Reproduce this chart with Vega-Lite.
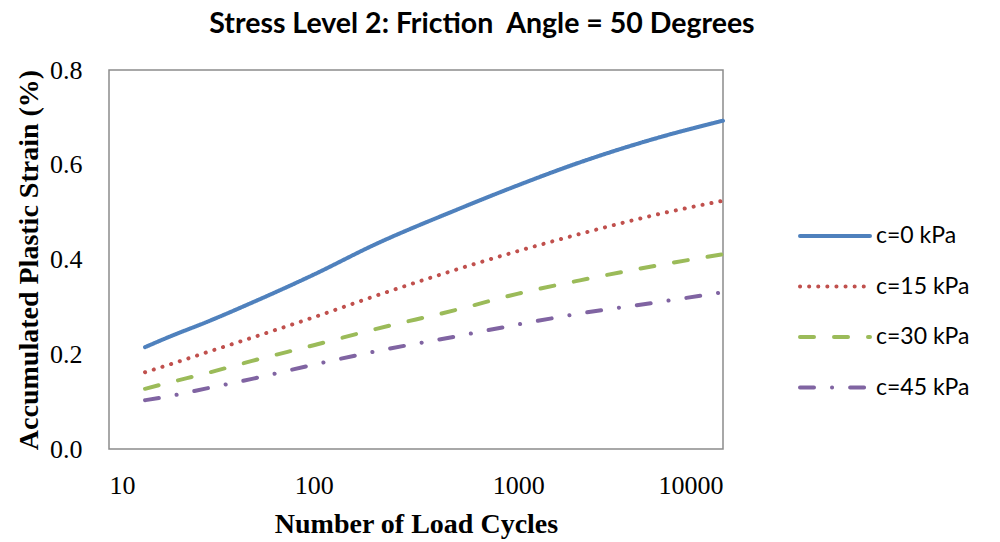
{
  "$schema": "https://vega.github.io/schema/vega-lite/v6.json",
  "autosize": {"type": "none"},
  "width": 614,
  "height": 379,
  "padding": {"left": 109, "top": 70, "right": 277, "bottom": 93},
  "background": "white",
  "title": {
    "text": "Stress Level 2: Friction\u00a0 Angle = 50 Degrees",
    "font": "Lato",
    "fontWeight": "bold",
    "fontSize": 28.5,
    "color": "#000000",
    "anchor": "middle",
    "frame": "group",
    "dx": 66,
    "offset": 19
  },
  "config": {
    "view": {"stroke": "#8c8c8c", "strokeWidth": 1.5},
    "axis": {"grid": false, "ticks": false, "domain": false, "labelColor": "#000000", "titleColor": "#000000"}
  },
  "data": {
    "values": [
      {"N": 15, "strain": 0.215, "series": "c=0 kPa"},
      {"N": 20, "strain": 0.238, "series": "c=0 kPa"},
      {"N": 30, "strain": 0.268, "series": "c=0 kPa"},
      {"N": 50, "strain": 0.309, "series": "c=0 kPa"},
      {"N": 100, "strain": 0.368, "series": "c=0 kPa"},
      {"N": 200, "strain": 0.432, "series": "c=0 kPa"},
      {"N": 500, "strain": 0.505, "series": "c=0 kPa"},
      {"N": 1000, "strain": 0.557, "series": "c=0 kPa"},
      {"N": 2000, "strain": 0.605, "series": "c=0 kPa"},
      {"N": 5000, "strain": 0.659, "series": "c=0 kPa"},
      {"N": 10000, "strain": 0.693, "series": "c=0 kPa"},
      {"N": 15, "strain": 0.162, "series": "c=15 kPa"},
      {"N": 20, "strain": 0.179, "series": "c=15 kPa"},
      {"N": 30, "strain": 0.204, "series": "c=15 kPa"},
      {"N": 50, "strain": 0.235, "series": "c=15 kPa"},
      {"N": 100, "strain": 0.278, "series": "c=15 kPa"},
      {"N": 200, "strain": 0.323, "series": "c=15 kPa"},
      {"N": 500, "strain": 0.379, "series": "c=15 kPa"},
      {"N": 1000, "strain": 0.418, "series": "c=15 kPa"},
      {"N": 2000, "strain": 0.454, "series": "c=15 kPa"},
      {"N": 5000, "strain": 0.497, "series": "c=15 kPa"},
      {"N": 10000, "strain": 0.524, "series": "c=15 kPa"},
      {"N": 15, "strain": 0.127, "series": "c=30 kPa"},
      {"N": 20, "strain": 0.141, "series": "c=30 kPa"},
      {"N": 30, "strain": 0.160, "series": "c=30 kPa"},
      {"N": 50, "strain": 0.186, "series": "c=30 kPa"},
      {"N": 100, "strain": 0.219, "series": "c=30 kPa"},
      {"N": 200, "strain": 0.253, "series": "c=30 kPa"},
      {"N": 500, "strain": 0.294, "series": "c=30 kPa"},
      {"N": 1000, "strain": 0.328, "series": "c=30 kPa"},
      {"N": 2000, "strain": 0.356, "series": "c=30 kPa"},
      {"N": 5000, "strain": 0.389, "series": "c=30 kPa"},
      {"N": 10000, "strain": 0.411, "series": "c=30 kPa"},
      {"N": 15, "strain": 0.103, "series": "c=45 kPa"},
      {"N": 20, "strain": 0.112, "series": "c=45 kPa"},
      {"N": 30, "strain": 0.128, "series": "c=45 kPa"},
      {"N": 50, "strain": 0.148, "series": "c=45 kPa"},
      {"N": 100, "strain": 0.178, "series": "c=45 kPa"},
      {"N": 200, "strain": 0.206, "series": "c=45 kPa"},
      {"N": 500, "strain": 0.238, "series": "c=45 kPa"},
      {"N": 1000, "strain": 0.263, "series": "c=45 kPa"},
      {"N": 2000, "strain": 0.286, "series": "c=45 kPa"},
      {"N": 5000, "strain": 0.311, "series": "c=45 kPa"},
      {"N": 10000, "strain": 0.331, "series": "c=45 kPa"}
    ]
  },
  "mark": {"type": "line", "strokeWidth": 4, "strokeCap": "round", "interpolate": "monotone"},
  "encoding": {
    "x": {
      "field": "N",
      "type": "quantitative",
      "scale": {"type": "log", "domain": [10, 10000], "nice": false},
      "axis": {
        "values": [10, 100, 1000, 10000],
        "format": "d",
        "labelFont": "Liberation Serif",
        "labelFontSize": 26,
        "labelPadding": 23,
        "title": "Number of Load Cycles",
        "titleFont": "Liberation Serif",
        "titleFontSize": 28,
        "titleFontWeight": "bold",
        "titlePadding": 12
      }
    },
    "y": {
      "field": "strain",
      "type": "quantitative",
      "scale": {"domain": [0, 0.8], "nice": false},
      "axis": {
        "values": [0, 0.2, 0.4, 0.6, 0.8],
        "format": ".1f",
        "labelFont": "Liberation Serif",
        "labelFontSize": 26,
        "labelPadding": 27,
        "title": "Accumulated Plastic Strain (%)",
        "titleFont": "Liberation Serif",
        "titleFontSize": 28,
        "titleFontWeight": "bold",
        "titlePadding": 6
      }
    },
    "color": {
      "field": "series",
      "type": "nominal",
      "scale": {
        "domain": ["c=0 kPa", "c=15 kPa", "c=30 kPa", "c=45 kPa"],
        "range": ["#4F81BD", "#C0504D", "#9BBB59", "#8064A2"]
      },
      "legend": {
        "title": null,
        "orient": "none",
        "legendX": 689,
        "legendY": 155,
        "symbolType": "stroke",
        "symbolSize": 4900,
        "symbolStrokeWidth": 4,
        "clipHeight": 22,
        "rowPadding": 27.5,
        "labelFont": "Lato",
        "labelFontSize": 23,
        "labelColor": "#000000",
        "labelOffset": 4,
        "encode": {"symbols": {"update": {"strokeCap": {"value": "round"}}}}
      }
    },
    "strokeDash": {
      "field": "series",
      "type": "nominal",
      "scale": {
        "domain": ["c=0 kPa", "c=15 kPa", "c=30 kPa", "c=45 kPa"],
        "range": [[1, 0], [0.1, 9], [14, 20], [14, 18, 0.1, 18]]
      },
      "legend": null
    }
  }
}
